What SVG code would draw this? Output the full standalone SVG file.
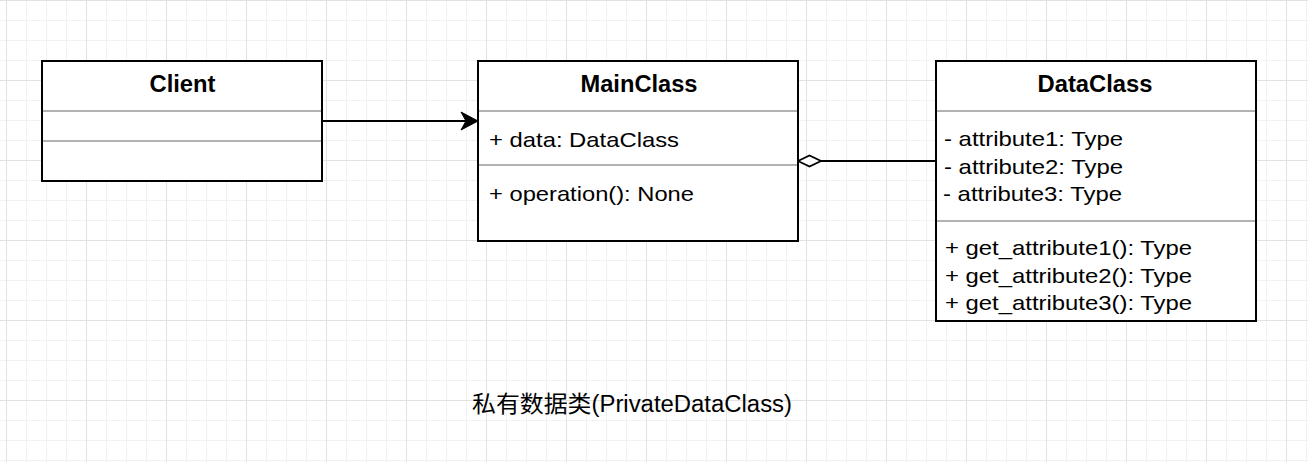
<svg xmlns="http://www.w3.org/2000/svg" width="1308" height="462" viewBox="0 0 1308 462">
<style>
.box{fill:#ffffff;stroke:#000000;stroke-width:2}
.sep{stroke:#999999;stroke-width:1.5;fill:none}
.title{font-family:"Liberation Sans",Arial,Helvetica,sans-serif;font-size:23px;font-weight:bold;fill:#000000;text-anchor:middle}
.txt{font-family:"Liberation Sans",Arial,Helvetica,sans-serif;font-size:21px;fill:#000000}
.cap{font-family:"Liberation Sans","Noto Sans CJK SC",sans-serif;font-size:23px;fill:#000000}
.edge{stroke:#000000;stroke-width:2;fill:none}
</style>
<defs>
<pattern id="grid" x="6" y="0" width="80" height="80" patternUnits="userSpaceOnUse">
<path d="M20.5 0V80M40.5 0V80M60.5 0V80M0 20.5H80M0 40.5H80M0 60.5H80" stroke="#f1f1f1" stroke-width="1" fill="none"/>
<path d="M0.5 0V80M0 0.5H80" stroke="#e2e2e2" stroke-width="1" fill="none"/>
</pattern>
<marker id="arrow" viewBox="-1 -10 20 20" markerWidth="20" markerHeight="20" refX="5" refY="0" orient="auto" markerUnits="userSpaceOnUse">
<path d="M0,-9 L17,0 L0,9 L5,0 Z" fill="#000000" stroke="#000000" stroke-width="1"/>
</marker>
<marker id="diamond" viewBox="-2 -8 28 16" markerWidth="28" markerHeight="16" refX="0" refY="0" orient="auto" markerUnits="userSpaceOnUse">
<path d="M0,0 L11.5,-5.5 L23,0 L11.5,5.5 Z" fill="#ffffff" stroke="#000000" stroke-width="1.8"/>
</marker>
</defs>
<rect x="0" y="0" width="1308" height="462" fill="#ffffff"/>
<rect x="0" y="0" width="1308" height="462" fill="url(#grid)"/>

<g id="connectors">
<line class="edge" x1="322" y1="121" x2="466" y2="121" marker-end="url(#arrow)"/>
<line class="edge" x1="798" y1="161" x2="936" y2="161" marker-start="url(#diamond)"/>
</g>

<g id="Client">
<rect class="box" x="42" y="61" width="280" height="120"/>
<line class="sep" x1="43" y1="111" x2="321" y2="111"/>
<line class="sep" x1="43" y1="141" x2="321" y2="141"/>
<text class="title" x="182.5" y="92" textLength="66" lengthAdjust="spacingAndGlyphs">Client</text>
</g>

<g id="MainClass">
<rect class="box" x="478" y="61" width="320" height="180"/>
<line class="sep" x1="479" y1="111" x2="797" y2="111"/>
<line class="sep" x1="479" y1="165" x2="797" y2="165"/>
<text class="title" x="639" y="92" textLength="117" lengthAdjust="spacingAndGlyphs">MainClass</text>
<text class="txt" x="489" y="146.5" textLength="190" lengthAdjust="spacingAndGlyphs">+ data: DataClass</text>
<text class="txt" x="489" y="200.5" textLength="205" lengthAdjust="spacingAndGlyphs">+ operation(): None</text>
</g>

<g id="DataClass">
<rect class="box" x="936" y="61" width="320" height="260"/>
<line class="sep" x1="937" y1="111" x2="1255" y2="111"/>
<line class="sep" x1="937" y1="221" x2="1255" y2="221"/>
<text class="title" x="1095" y="92" textLength="115" lengthAdjust="spacingAndGlyphs">DataClass</text>
<text class="txt" x="944" y="146" textLength="179" lengthAdjust="spacingAndGlyphs">- attribute1: Type</text>
<text class="txt" x="944" y="173.5" textLength="179" lengthAdjust="spacingAndGlyphs">- attribute2: Type</text>
<text class="txt" x="943" y="201" textLength="179" lengthAdjust="spacingAndGlyphs">- attribute3: Type</text>
<text class="txt" x="945" y="255" textLength="247" lengthAdjust="spacingAndGlyphs">+ get_attribute1(): Type</text>
<text class="txt" x="945" y="282.5" textLength="247" lengthAdjust="spacingAndGlyphs">+ get_attribute2(): Type</text>
<text class="txt" x="945" y="310" textLength="247" lengthAdjust="spacingAndGlyphs">+ get_attribute3(): Type</text>
</g>

<g id="caption">
<text class="cap" x="472" y="412" textLength="320" lengthAdjust="spacingAndGlyphs">私有数据类(PrivateDataClass)</text>
</g>
</svg>
